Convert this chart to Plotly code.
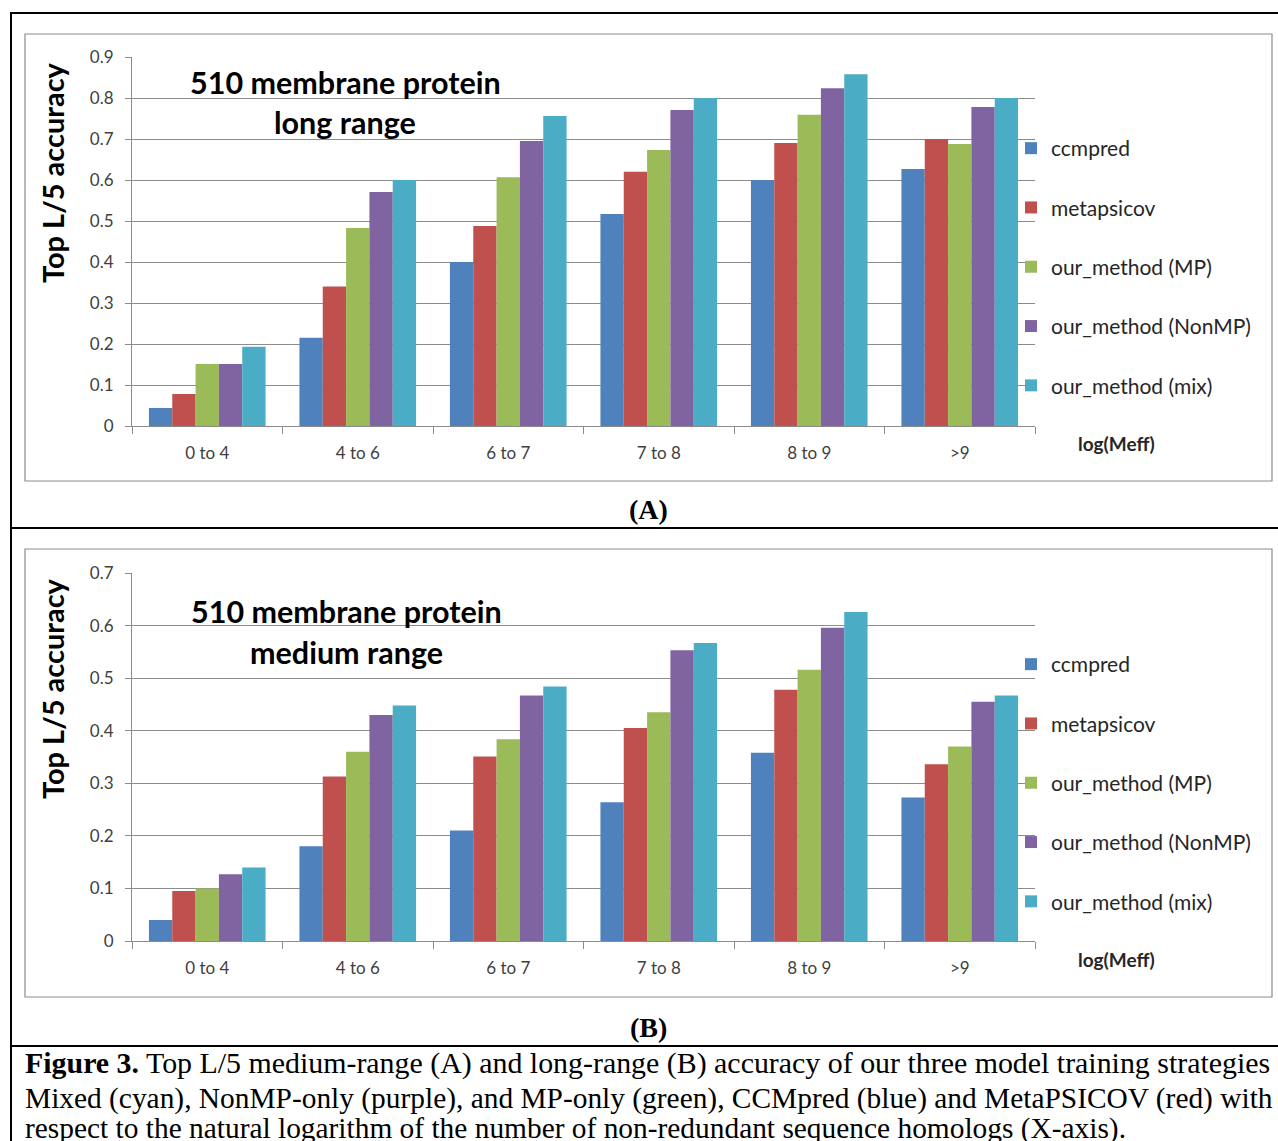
import plotly.graph_objects as go

W, H = 1278, 1141

categories = ["0 to 4", "4 to 6", "6 to 7", "7 to 8", "8 to 9", ">9"]
series_names = ["ccmpred", "metapsicov", "our_method (MP)", "our_method (NonMP)", "our_method (mix)"]
series_colors = ["#4F81BD", "#C0504D", "#9BBB59", "#8064A2", "#4BACC6"]

# (A) long range
long_ccmpred = [0.044, 0.215, 0.400, 0.517, 0.600, 0.627]
long_metapsicov = [0.078, 0.340, 0.488, 0.620, 0.690, 0.700]
long_mp = [0.151, 0.483, 0.607, 0.673, 0.759, 0.688]
long_nonmp = [0.151, 0.571, 0.695, 0.771, 0.824, 0.778]
long_mix = [0.193, 0.600, 0.756, 0.800, 0.858, 0.800]

# (B) medium range
med_ccmpred = [0.040, 0.180, 0.210, 0.264, 0.358, 0.273]
med_metapsicov = [0.095, 0.313, 0.351, 0.405, 0.478, 0.336]
med_mp = [0.100, 0.360, 0.384, 0.435, 0.516, 0.370]
med_nonmp = [0.127, 0.430, 0.467, 0.553, 0.596, 0.455]
med_mix = [0.140, 0.448, 0.484, 0.567, 0.626, 0.467]

long_series = [long_ccmpred, long_metapsicov, long_mp, long_nonmp, long_mix]
med_series = [med_ccmpred, med_metapsicov, med_mp, med_nonmp, med_mix]

yticks_long = [0, 0.1, 0.2, 0.3, 0.4, 0.5, 0.6, 0.7, 0.8, 0.9]
yticks_med = [0, 0.1, 0.2, 0.3, 0.4, 0.5, 0.6, 0.7]


def px(x):
    return x / W


def py(y):
    return 1 - y / H


fig = go.Figure()

for name, color, vals in zip(series_names, series_colors, long_series):
    fig.add_trace(go.Bar(x=categories, y=vals, name=name, marker_color=color,
                         marker_line_width=0, xaxis="x", yaxis="y",
                         legend="legend", legendgroup="A" + name))
for name, color, vals in zip(series_names, series_colors, med_series):
    fig.add_trace(go.Bar(x=categories, y=vals, name=name, marker_color=color,
                         marker_line_width=0, xaxis="x2", yaxis="y2",
                         legend="legend2", legendgroup="B" + name))

tickfont = dict(family="Lato", size=17, color="#404040")
grid = "#8C8C8C"

xcommon = dict(type="category", showline=True, linecolor=grid, linewidth=1,
               ticks="outside", tickson="boundaries", ticklen=7, tickcolor=grid,
               tickfont=tickfont, showgrid=False, domain=[px(132), px(1035)],
               ticklabelstandoff=12, automargin=False)
ycommon = dict(showline=True, linecolor=grid, linewidth=1, ticks="outside",
               ticklen=6, tickcolor=grid, showgrid=True, gridcolor=grid,
               gridwidth=1, tickfont=tickfont, zeroline=False,
               ticklabelstandoff=8, automargin=False)

legend_common = dict(font=dict(family="Lato", size=21, color="#262626"),
                     bgcolor="rgba(0,0,0,0)", tracegroupgap=29,
                     traceorder="grouped", itemclick=False,
                     xanchor="left", yanchor="top", x=px(1011))

fig.update_layout(
    width=W, height=H,
    margin=dict(l=0, r=0, t=0, b=0, pad=0, autoexpand=False),
    paper_bgcolor="white", plot_bgcolor="white",
    barmode="group", bargap=0.225, bargroupgap=0,
    xaxis=dict(xcommon, anchor="y"),
    yaxis=dict(ycommon, range=[0, 0.9], tickvals=yticks_long,
               domain=[py(426), py(57)], anchor="x"),
    xaxis2=dict(xcommon, anchor="y2"),
    yaxis2=dict(ycommon, range=[0, 0.7], tickvals=yticks_med,
                domain=[py(941), py(573)], anchor="x2"),
    legend=dict(legend_common, y=py(128)),
    legend2=dict(legend_common, y=py(644)),
    showlegend=True,
)

shapes = []
# chart boxes
for (y0, y1) in [(34, 481), (549, 997)]:
    shapes.append(dict(type="rect", xref="paper", yref="paper",
                       x0=px(25), x1=px(1272), y0=py(y1), y1=py(y0),
                       line=dict(color="#8C8C8C", width=1.2)))
# outer frame lines
for y in [13, 528, 1046]:
    shapes.append(dict(type="line", xref="paper", yref="paper",
                       x0=px(10), x1=1, y0=py(y), y1=py(y),
                       line=dict(color="black", width=2)))
shapes.append(dict(type="line", xref="paper", yref="paper",
                   x0=px(11), x1=px(11), y0=py(13), y1=0,
                   line=dict(color="black", width=2)))
fig.update_layout(shapes=shapes)

ann = []
title_font = dict(family="Lato", size=30.5, color="black")
for text, x, y in [("<b>510 membrane protein</b>", 345, 82),
                   ("<b>long range</b>", 345, 122),
                   ("<b>510 membrane protein</b>", 347, 611),
                   ("<b>medium range</b>", 347, 652)]:
    ann.append(dict(text=text, x=px(x), y=py(y), xref="paper", yref="paper",
                    showarrow=False, xanchor="center", yanchor="middle",
                    font=title_font))
for y in [173, 689]:
    ann.append(dict(text="<b>Top L/5 accuracy</b>", x=px(52), y=py(y),
                    xref="paper", yref="paper", showarrow=False, textangle=-90,
                    xanchor="center", yanchor="middle",
                    font=dict(family="Lato", size=29, color="black")))
for y in [443, 959]:
    ann.append(dict(text="<b>log(Meff)</b>", x=px(1116), y=py(y),
                    xref="paper", yref="paper", showarrow=False,
                    xanchor="center", yanchor="middle",
                    font=dict(family="Lato", size=19, color="#262626")))
for text, y in [("<b>(A)</b>", 510), ("<b>(B)</b>", 1027)]:
    ann.append(dict(text=text, x=px(648), y=py(y), xref="paper", yref="paper",
                    showarrow=False, xanchor="center", yanchor="middle",
                    font=dict(family="Liberation Serif", size=28, color="black")))

caption_lines = [
    "<b>Figure 3.</b> Top L/5 medium-range (A) and long-range (B) accuracy of our three model training strategies",
    "Mixed (cyan), NonMP-only (purple), and MP-only (green), CCMpred (blue) and MetaPSICOV (red) with",
    "respect to the natural logarithm of the number of non-redundant sequence homologs (X-axis).",
]
caption_sizes = [29.9, 29.4, 29.4]
for text, y, s in zip(caption_lines, [1063, 1098, 1128], caption_sizes):
    ann.append(dict(text=text, x=px(23), y=py(y), xref="paper", yref="paper",
                    showarrow=False, xanchor="left", yanchor="middle",
                    font=dict(family="Liberation Serif", size=s, color="black")))
fig.update_layout(annotations=ann)

post = ("document.documentElement.style.margin='0';"
        "document.documentElement.style.overflow='hidden';"
        "document.body.style.margin='0';"
        "document.body.style.overflow='hidden';")

fig.write_html("out.html", config={"displayModeBar": False}, post_script=post)
